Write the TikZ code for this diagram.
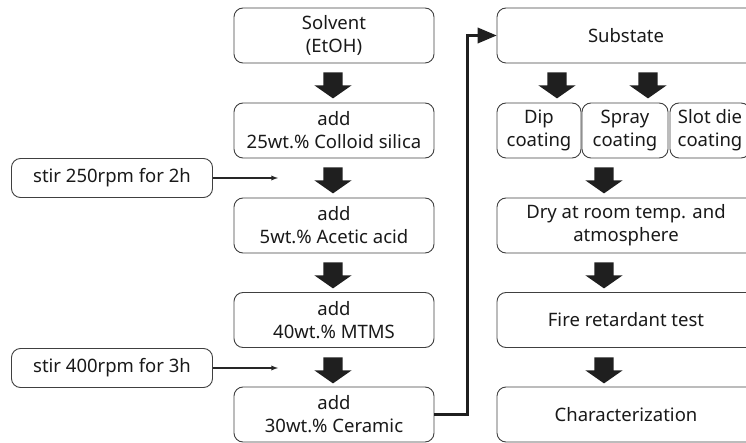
\documentclass[tikz,border=0pt]{standalone}
\usepackage{fontspec}
\setmainfont{Noto Sans}
\usetikzlibrary{shapes,arrows,positioning}

\begin{document}
\begin{tikzpicture}[x=1pt,y=-1pt]
    %styles
    \tikzstyle{stepbox}=[rectangle,draw=black!75,line width=0.9pt,rounded corners=9pt,align=center,inner sep=0pt,text=black!90,font=\fontsize{18.5}{23}\selectfont]
    \tikzstyle{stirbox}=[stepbox,minimum width=201pt,minimum height=39pt]
    \tikzstyle{mainbox}=[stepbox,minimum width=200pt,minimum height=55pt]
    \tikzstyle{wide}=[stepbox,minimum width=258pt,minimum height=55pt]
    \tikzstyle{down}=[single arrow,fill=black!88,draw=none,rotate=-90,minimum height=26pt,inner xsep=0pt,inner ysep=9.5pt,text height=0pt,text depth=0pt,single arrow head extend=9pt,single arrow tip angle=110]
    \tikzstyle{stir}=[->,>=latex,black!85,line width=1.3pt]
    \tikzstyle{link}=[->,>=triangle 45,black!88,line width=3.5pt]
    \clip (0,0) rectangle (746,443);
    %nodes
    \node[mainbox] (solv) at (334,35.5) {Solvent\\(EtOH)};
    \node[mainbox] (a1) at (334,130.5) {add\\25wt.\% Colloid silica};
    \node[mainbox] (a2) at (334,225.5) {add\\5wt.\% Acetic acid};
    \node[mainbox] (a3) at (334,320) {add\\40wt.\% MTMS};
    \node[mainbox] (a4) at (334,414.5) {add\\30wt.\% Ceramic};
    \node[stirbox] (s1) at (112,178) {stir 250rpm for 2h};
    \node[stirbox] (s2) at (112,368) {stir 400rpm for 3h};

    \node[wide] (sub) at (626,35.5) {Substate};
    \node[stepbox,minimum width=84pt,minimum height=55pt] (dip) at (539,130.5) {Dip\\coating};
    \node[stepbox,minimum width=86pt,minimum height=55pt] (spray) at (625,130.5) {Spray\\coating};
    \node[stepbox,minimum width=80pt,minimum height=55pt] (slot) at (710,130.5) {Slot die\\coating};
    \node[wide] (dry) at (626,225.5) {Dry at room temp. and\\atmosphere};
    \node[wide] (fire) at (626,320) {Fire retardant test};
    \node[wide] (char) at (626,414.5) {Characterization};

    \coordinate (e1) at (278,178);
    \coordinate (e2) at (278,368);

    %block arrows
    \node[down] (d1) at (333,82) {};
    \node[down] (d2) at (333,177) {};
    \node[down] (d3) at (333,272) {};
    \node[down] (d4) at (333,367) {};
    \node[down] (d5) at (557,82) {};
    \node[down] (d6) at (648,82) {};
    \node[down] (d7) at (604,177) {};
    \node[down] (d8) at (604,272) {};
    \node[down] (d9) at (604,367) {};

    %arrows
    \draw[stir] (s1)--(e1);
    \draw[stir] (s2)--(e2);
    \draw[link] (a4.east) -- ++(33,0) |- (sub.west);
\end{tikzpicture}
\end{document}
